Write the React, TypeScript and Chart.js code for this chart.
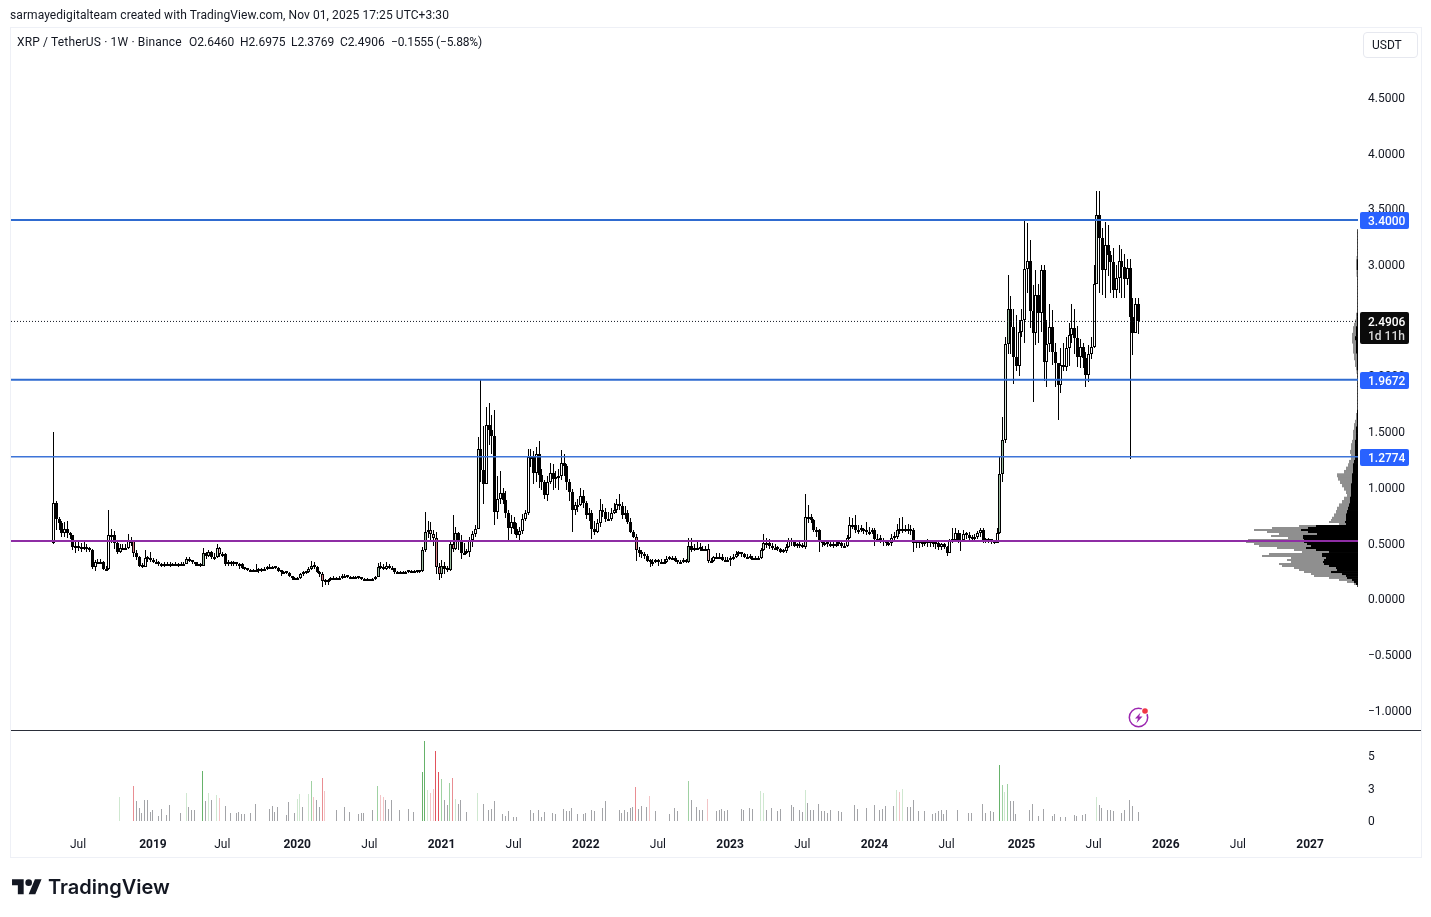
import { useEffect, useRef } from "react";
import Chart from "chart.js/auto";

// weekly XRP/USDT candles, week 0 = first candle on the left
const firstOpen = 0.5;
const closes = [
  .86,.72,.68,.59,.63,.59,.57,.47,.46,.47,
  .45,.47,.45,.44,.29,.33,.33,.33,.27,.27,
  .57,.57,.50,.42,.46,.46,.46,.52,.52,.41,
  .38,.30,.29,.37,.36,.35,.33,.33,.31,.30,
  .31,.31,.31,.31,.31,.30,.31,.31,.36,.34,
  .33,.31,.31,.30,.41,.39,.42,.38,.38,.46,
  .40,.40,.31,.33,.31,.32,.31,.31,.28,.27,
  .26,.26,.26,.26,.25,.27,.27,.29,.29,.29,
  .28,.25,.24,.24,.23,.21,.19,.19,.19,.22,
  .23,.24,.27,.30,.29,.24,.22,.16,.15,.17,
  .19,.19,.19,.19,.21,.21,.20,.20,.20,.20,
  .19,.18,.18,.18,.18,.18,.20,.29,.28,.27,
  .30,.28,.28,.24,.24,.24,.24,.24,.25,.25,
  .25,.24,.25,.44,.60,.62,.58,.55,.29,.22,
  .30,.27,.26,.49,.45,.59,.52,.41,.41,.42,
  .53,.58,.63,1.35,1.16,1.03,1.56,1.52,1.46,.78,
  .90,.95,.89,.77,.64,.69,.63,.57,.61,.72,
  .77,1.27,1.27,1.13,1.30,1.11,1.05,.93,1.05,1.13,
  1.08,1.09,1.10,1.22,1.19,1.05,.96,.80,.84,.84,
  .92,.86,.75,.77,.63,.60,.68,.80,.78,.72,
  .72,.77,.80,.85,.83,.75,.77,.69,.60,.56,
  .44,.41,.40,.39,.34,.33,.33,.34,.33,.33,
  .33,.36,.37,.37,.34,.33,.33,.34,.33,.48,
  .44,.46,.46,.45,.45,.45,.34,.34,.38,.38,
  .38,.35,.35,.35,.36,.38,.40,.41,.40,.38,
  .38,.37,.37,.37,.37,.44,.50,.50,.48,.46,
  .46,.45,.42,.43,.47,.53,.51,.48,.49,.48,
  .47,.74,.74,.71,.62,.62,.52,.50,.50,.49,
  .49,.48,.49,.50,.48,.48,.55,.66,.66,.62,
  .62,.63,.61,.60,.60,.62,.54,.54,.53,.51,
  .50,.50,.55,.56,.62,.61,.63,.63,.61,.62,
  .50,.51,.50,.49,.50,.51,.50,.49,.50,.47,
  .49,.47,.41,.52,.53,.59,.53,.53,.58,.57,
  .55,.54,.56,.59,.62,.53,.52,.53,.52,.50,
  .59,1.12,1.43,2.29,2.60,2.44,2.17,2.09,2.40,2.50,
  2.96,3.03,2.58,2.39,2.73,2.57,2.95,2.13,2.29,2.44,
  2.22,2.12,1.92,2.10,2.08,2.25,2.37,2.43,2.34,2.17,
  2.26,2.16,2.01,2.20,2.26,2.83,3.45,3.24,2.95,3.18,
  3.09,3.02,2.77,2.88,3.03,2.98,2.87,2.97,2.53,2.39,
  2.646,2.4906,
];
const highs = [
  1.50,.88,.74,.70,.69,.70,.60,.57,.51,.51,
  .50,.51,.49,.47,.45,.35,.36,.36,.34,.30,
  .80,.63,.61,.52,.49,.49,.49,.58,.56,.53,
  .44,.39,.32,.44,.39,.42,.37,.36,.34,.32,
  .33,.33,.33,.32,.33,.32,.33,.33,.38,.38,
  .35,.33,.33,.32,.46,.42,.44,.43,.41,.49,
  .47,.42,.41,.35,.34,.34,.33,.32,.32,.29,
  .27,.27,.27,.31,.28,.28,.29,.30,.31,.30,
  .30,.29,.26,.25,.24,.24,.21,.20,.20,.23,
  .25,.25,.29,.34,.33,.30,.25,.24,.18,.18,
  .20,.21,.20,.21,.22,.22,.21,.21,.21,.21,
  .20,.19,.19,.19,.18,.19,.21,.32,.33,.31,
  .33,.31,.30,.28,.25,.25,.25,.25,.26,.26,
  .26,.25,.26,.47,.78,.70,.69,.62,.60,.32,
  .35,.33,.30,.51,.75,.65,.60,.57,.50,.45,
  .56,.61,.66,1.45,1.965,1.55,1.72,1.76,1.65,1.70,
  1.10,1.15,1.00,.97,.80,.75,.74,.68,.65,.76,
  .80,1.35,1.35,1.33,1.36,1.42,1.17,1.07,1.10,1.22,
  1.21,1.15,1.17,1.34,1.30,1.21,1.08,.99,.87,.90,
  1.00,.98,.88,.82,.80,.70,.72,.90,.85,.82,
  .78,.82,.86,.90,.94,.87,.83,.80,.73,.62,
  .58,.47,.44,.42,.40,.36,.36,.36,.36,.36,
  .36,.39,.39,.39,.39,.35,.35,.37,.36,.55,
  .55,.49,.51,.50,.48,.48,.49,.37,.39,.41,
  .41,.40,.38,.38,.39,.40,.43,.43,.42,.41,
  .40,.40,.39,.39,.39,.46,.58,.55,.54,.50,
  .49,.48,.46,.45,.49,.55,.55,.52,.50,.52,
  .50,.94,.84,.76,.72,.65,.63,.53,.52,.52,
  .51,.52,.51,.53,.52,.50,.57,.74,.73,.75,
  .66,.66,.64,.69,.65,.64,.64,.58,.57,.55,
  .53,.52,.58,.60,.67,.73,.74,.66,.67,.66,
  .64,.53,.52,.52,.53,.54,.53,.52,.53,.52,
  .50,.50,.48,.54,.64,.64,.62,.59,.62,.60,
  .60,.57,.58,.61,.64,.64,.55,.55,.54,.53,
  .64,1.27,1.63,2.35,2.91,2.72,2.60,2.55,2.50,2.60,
  3.40,3.37,3.22,2.82,2.95,2.83,3.00,3.00,2.50,2.65,
  2.59,2.30,2.10,2.25,2.30,2.35,2.48,2.65,2.60,2.45,
  2.33,2.30,2.22,2.28,2.35,3.00,3.66,3.66,3.33,3.38,
  3.36,3.12,3.15,3.00,3.18,3.14,3.10,3.05,3.05,2.70,
  2.70,2.6975,
];
const lows = [
  .49,.62,.62,.56,.56,.55,.54,.44,.41,.43,
  .42,.44,.42,.42,.27,.25,.31,.31,.26,.26,
  .26,.50,.45,.40,.41,.44,.44,.45,.48,.38,
  .35,.29,.28,.29,.33,.33,.32,.31,.30,.29,
  .29,.30,.29,.30,.30,.29,.30,.30,.31,.33,
  .31,.30,.30,.29,.30,.36,.38,.36,.35,.37,
  .38,.38,.30,.30,.30,.30,.30,.27,.27,.26,
  .25,.25,.25,.25,.23,.24,.26,.26,.28,.27,
  .27,.24,.21,.22,.22,.20,.17,.18,.18,.18,
  .21,.22,.23,.26,.27,.23,.20,.11,.13,.13,
  .16,.17,.18,.17,.18,.20,.19,.19,.19,.19,
  .18,.17,.17,.17,.17,.17,.17,.20,.27,.26,
  .26,.27,.26,.22,.23,.23,.23,.23,.23,.24,
  .24,.23,.23,.24,.42,.55,.52,.48,.22,.17,
  .19,.22,.24,.25,.42,.44,.44,.36,.40,.40,
  .38,.47,.56,.63,1.05,.85,1.03,1.38,1.30,.66,
  .72,.85,.85,.73,.53,.58,.58,.55,.52,.58,
  .70,.75,1.18,1.03,1.05,1.00,.98,.90,.88,1.03,
  .98,1.00,.98,1.07,1.10,.98,.88,.60,.75,.78,
  .83,.82,.72,.70,.54,.57,.59,.65,.74,.69,
  .70,.70,.76,.77,.80,.72,.72,.67,.59,.55,
  .34,.38,.37,.36,.33,.29,.30,.32,.30,.31,
  .32,.32,.35,.35,.33,.31,.32,.32,.32,.32,
  .42,.43,.44,.43,.43,.43,.32,.32,.33,.36,
  .37,.34,.34,.34,.30,.35,.37,.39,.38,.37,
  .36,.36,.36,.36,.36,.36,.43,.46,.45,.44,
  .44,.43,.41,.41,.41,.46,.48,.47,.46,.46,
  .46,.45,.68,.68,.60,.56,.42,.47,.48,.47,
  .47,.46,.47,.48,.46,.46,.47,.54,.63,.59,
  .58,.60,.58,.57,.57,.58,.48,.51,.50,.48,
  .48,.48,.48,.53,.54,.58,.59,.60,.58,.57,
  .42,.46,.46,.47,.48,.47,.47,.47,.45,.44,
  .44,.45,.39,.41,.50,.52,.50,.43,.51,.54,
  .53,.52,.52,.54,.56,.50,.50,.50,.49,.49,
  .50,.58,1.05,1.40,2.20,2.20,1.93,2.05,2.00,2.35,
  2.30,2.75,2.43,1.77,2.28,2.30,2.40,1.96,1.90,2.22,
  2.10,1.90,1.61,1.85,2.05,2.05,2.09,2.30,2.20,2.08,
  2.07,2.07,1.90,1.95,2.15,2.25,2.83,2.75,2.73,2.70,
  2.90,2.75,2.70,2.70,2.75,2.70,2.70,2.82,1.26,2.19,
  2.40,2.3769,
];

// volume pane: only the weeks that show a bar
const volumeWeeks = [
  24,29,30,31,32,33,34,35,36,38,39,41,42,46,48,49,50,51,54,55,56,57,59,60,62,64,66,67,68,69,71,73,78,79,80,81,84,85,87,
  88,89,90,92,93,94,95,96,97,98,102,105,107,110,111,112,115,117,118,119,120,121,122,125,128,130,133,134,135,136,137,138,139,
  140,141,142,143,144,145,146,147,149,153,155,157,158,159,162,163,164,166,167,172,173,175,176,177,180,181,184,185,186,187,189,191,192,194,195,
  198,199,204,205,206,207,208,209,210,211,212,214,215,217,222,224,225,229,230,232,233,234,236,239,240,241,242,243,248,249,251,252,255,256,257,259,261,262,
  266,267,269,270,271,272,273,274,276,277,278,279,280,283,284,289,290,293,296,298,299,300,303,304,305,306,308,309,310,312,314,317,318,319,320,321,322,326,330,331,
  335,336,338,339,341,342,343,344,345,346,347,352,353,355,357,360,361,363,365,368,369,371,372,376,377,378,380,381,382,385,386,388,389,391,
];
const volumeValues = [
  1.86,2.71,1.55,1.01,.62,1.63,1.63,.70,.85,.39,.93,.47,1.24,.62,2.17,1.09,.85,.85,3.88,1.55,2.17,1.63,2.02,1.78,1.16,.62,.62,.70,.54,.54,.62,1.32,.93,1.16,.70,1.09,.47,1.47,.62,
  1.71,2.09,1.09,2.09,3.10,1.86,1.63,1.09,3.33,2.33,.85,1.09,.70,.54,.62,.62,.85,2.71,2.02,1.86,1.63,.93,1.63,.85,.93,.70,3.80,6.20,2.40,2.17,2.45,5.43,3.80,
  3.26,1.63,1.24,2.95,3.33,1.71,1.32,1.63,.70,2.17,1.32,.85,.93,1.55,.54,.39,.78,.31,.31,.85,.62,.85,.31,.70,.62,.54,.93,.78,.78,1.01,.54,.54,.62,.85,.78,
  1.01,1.55,.85,.62,.85,.70,1.01,1.09,2.64,.93,1.16,1.09,1.94,.78,.54,1.01,.78,3.10,1.63,1.09,.85,.85,1.71,.78,.85,.93,.78,.85,.93,.85,1.01,.93,2.33,2.17,.85,1.01,.78,.93,
  1.24,1.09,.85,.70,2.40,1.40,.85,.85,1.32,.78,.78,.62,.85,.78,.70,1.24,.93,1.01,1.24,.85,.93,1.16,1.16,2.40,2.25,2.48,1.09,1.09,1.63,.78,.78,.54,.62,.78,.85,.54,.85,.85,.62,.62,
  1.32,.62,.78,.70,4.34,2.79,2.25,2.87,1.55,1.55,.54,.85,1.32,.39,.93,.39,.54,.31,.31,.47,.39,.47,.54,1.86,1.24,1.01,.85,.85,.78,.62,.85,1.63,1.16,.70,
];

// anchored volume profile: dense rows where most of the volume sits
const fineProfilePrices = [
  .117,.135,.153,.171,.189,.207,.224,.242,.260,.278,.296,.314,.332,.350,.368,.386,.404,
  .422,.440,.458,.476,.494,.512,.530,.548,.566,.584,.602,.620,.637,.655,.673,.691,.709,
];
const fineProfileTotals = [
  1,4,11,19,29,44,47,54,59,64,76,79,67,71,67,96,89,
  56,64,81,99,104,112,110,70,87,79,91,104,86,59,19,29,27,
];
const fineProfileInner = [
  .5,2,4,6,11,12,16,27,21,22,29,34,35,34,32,36,36,
  29,42,52,47,51,54,54,55,55,41,50,57,50,42,12,13,12,
];

// and coarser rows above that
const profilePrices = [
  .72,.75,.78,.81,.84,.87,.90,.93,.96,.99,
  1.02,1.05,1.08,1.11,1.14,1.17,1.20,1.23,1.26,1.29,1.32,1.35,1.38,1.41,1.44,1.47,1.50,1.53,1.56,1.59,1.62,1.65,1.68,
  1.71,1.74,1.77,1.80,1.83,1.86,1.89,1.92,1.95,1.98,2.01,2.04,2.07,2.10,2.13,2.16,2.19,2.22,2.25,2.28,2.31,2.34,2.37,2.40,2.43,2.46,2.49,
  2.52,2.55,2.58,2.61,2.64,2.67,2.70,2.73,2.76,2.79,2.82,2.85,2.88,2.91,2.94,2.97,3.00,3.03,3.06,3.09,3.12,3.15,3.18,3.21,3.24,3.27,3.30,
];
const profileTotals = [
  26,24,22,21,19,16,14,11,12,14,
  16,18,20,21,14,12,10,9,7,7,8,7,7,6,5,5,5,4,4,3,2,2,1,
  1,1,1,1,1,1,1,1,1,1,1,1.5,2,3,3,4,4,5,5,5,6,6,6,5,5,4,3,
  2,2,1,1,1,1,1,1,1,1,1,1,1,1.5,1.5,2,2,2,1.5,1,1,1,1,1,1,1,1,
];
const profileInner = [
  12,12,11,10,9,8,8,7,7,7,
  7,6,6,6,5,5,5,4,3,3,3,3,3,3,2,2,2,2,1,1,1,1,1,
  .5,.5,.5,.5,.5,.5,.5,.5,.5,.5,.5,.5,1,1,1,1,1,2,2,2,2,3,2,2,2,1,1,
  1,1,.5,.5,.5,.5,.5,.5,.5,.5,.5,.5,.5,.5,.5,1,1,1,.5,.5,.5,.5,.5,.5,.5,.5,.5,
];

const priceTicks = [-1, -0.5, 0, 0.5, 1, 1.5, 2, 2.5, 3, 3.5, 4, 4.5];
const volumeTicks = [0, 2.5, 5];
const timeWeeks = [9, 36, 61, 88, 114, 140, 166, 192, 218, 244, 270, 296, 322, 349, 375, 401, 427, 453];
const timeLabels = ["Jul", "2019", "Jul", "2020", "Jul", "2021", "Jul", "2022", "Jul", "2023", "Jul", "2024", "Jul", "2025", "Jul", "2026", "Jul", "2027"];

const lastPrice = 2.4906;
const blueLevels = [3.4, 1.9672, 1.2774];
const purpleLevel = 0.5204;

const legendParts = [
  { left: 17, text: "XRP / TetherUS \u00b7 1W \u00b7 Binance", spacing: 0.15 },
  { left: 189, text: "O2.6460", spacing: 0 },
  { left: 240, text: "H2.6975", spacing: 0 },
  { left: 291, text: "L2.3769", spacing: 0 },
  { left: 340, text: "C2.4906", spacing: 0 },
  { left: 391, text: "\u22120.1555 (\u22125.88%)", spacing: -0.2 },
];

const FONT = "Roboto, 'Noto Sans', sans-serif";
const TEXT = "#131722";
const X_MIN = -15.135;
const X_MAX = 470.27;

const opens = closes.map((c, i) => (i ? closes[i - 1] : firstOpen));

function volumeTint(value: number, up: boolean) {
  if (value >= 3.5) return up ? "#66b26a" : "#e2535d";
  if (value >= 2.6) return up ? "#9fd1a2" : "#e98d92";
  if (value >= 1.68) return up ? "#cfe8d0" : "#f3c4c6";
  return null;
}

function bodyTint(value: number, up: boolean) {
  if (value >= 2.6) return up ? "#9dbfa2" : "#d97f86";
  if (value >= 1.68) return up ? "#dbe8dc" : "#edc3c5";
  return null;
}

const volumeColorByWeek = new Map<number, string>();
const bodyColorByWeek = new Map<number, string>();
volumeWeeks.forEach((w, i) => {
  const up = closes[w] >= opens[w];
  const vt = volumeTint(volumeValues[i], up);
  const bt = bodyTint(volumeValues[i], up);
  if (vt) volumeColorByWeek.set(w, vt);
  if (bt) bodyColorByWeek.set(w, bt);
});

// snap bars to whole pixels so the 1px wicks stay crisp
const snapBars = {
  id: "snapBars",
  beforeDatasetsDraw(chart: any) {
    chart.getSortedVisibleDatasetMetas().forEach((meta: any) => {
      if (meta.type !== "bar" || meta.indexAxis === "y") return;
      const isCandle = meta.yAxisID === "y";
      meta.data.forEach((el: any) => {
        el.x = (isCandle ? Math.round(el.x) : Math.floor(el.x)) + 0.5;
        el.y = Math.round(el.y);
        el.base = Math.round(el.base);
      });
    });
  },
};

const priceTags = {
  id: "priceTags",
  afterDraw(chart: any) {
    const { ctx } = chart;
    const y = chart.scales.y;
    ctx.save();
    ctx.font = `500 12px ${FONT}`;
    ctx.textBaseline = "middle";
    ctx.textAlign = "left";
    blueLevels.forEach((v) => {
      const py = Math.round(y.getPixelForValue(v));
      ctx.fillStyle = "#2962ff";
      ctx.beginPath();
      ctx.roundRect(1360, py - 8, 49, 17, 2);
      ctx.fill();
      ctx.fillStyle = "#ffffff";
      ctx.fillText(v.toFixed(4), 1368, py + 2);
    });
    const py = Math.round(y.getPixelForValue(lastPrice));
    ctx.fillStyle = "#0b0b0b";
    ctx.beginPath();
    ctx.roundRect(1360, py - 9, 49, 32, 2);
    ctx.fill();
    ctx.fillStyle = "#ffffff";
    ctx.fillText(lastPrice.toFixed(4), 1368, py + 2);
    ctx.fillStyle = "#d8d8d8";
    ctx.fillText("1d 11h", 1368, py + 16);
    ctx.restore();
  },
};

function levelLine(value: number, color: string, width: number, order: number, dash: number[] = []) {
  return {
    type: "line",
    data: [{ x: X_MIN, y: value }, { x: X_MAX, y: value }],
    xAxisID: "x",
    yAxisID: "y",
    borderColor: color,
    borderWidth: width,
    borderDash: dash,
    pointRadius: 0,
    order,
  };
}

function profileRows(prices: number[], widths: number[], color: string, thickness: number, order: number) {
  return {
    indexAxis: "y",
    data: prices.map((p, i) => ({ y: p, x: [0, widths[i]] })),
    xAxisID: "xProfile",
    yAxisID: "y",
    backgroundColor: color,
    barThickness: thickness,
    inflateAmount: 0,
    grouped: false,
    order,
  };
}

export default function App() {
  const canvasRef = useRef<HTMLCanvasElement>(null);

  useEffect(() => {
    const chart = new Chart(canvasRef.current!.getContext("2d")!, {
      type: "bar",
      data: {
        datasets: [
          profileRows(fineProfilePrices, fineProfileTotals, "#8f8f8f", 2, 8),
          profileRows(profilePrices, profileTotals, "#8f8f8f", 4, 8),
          profileRows(fineProfilePrices, fineProfileInner, "#000000", 2, 7),
          profileRows(profilePrices, profileInner, "#000000", 4, 7),
          {
            data: closes.map((_, i) => ({ x: i, y: [lows[i], highs[i]] })),
            xAxisID: "x",
            yAxisID: "y",
            backgroundColor: "#000000",
            barThickness: 1,
            inflateAmount: 0,
            grouped: false,
            order: 6,
          },
          {
            data: closes.map((c, i) => ({ x: i, y: [opens[i], c] })),
            xAxisID: "x",
            yAxisID: "y",
            backgroundColor: closes.map((c, i) => bodyColorByWeek.get(i) || (c >= opens[i] ? "#ffffff" : "#000000")),
            borderColor: "#000000",
            borderWidth: 1,
            borderSkipped: false,
            barThickness: 3,
            inflateAmount: 0,
            minBarLength: 2,
            grouped: false,
            order: 5,
          },
          {
            data: volumeWeeks.map((w, i) => ({ x: w, y: [0, volumeValues[i]] })),
            xAxisID: "x",
            yAxisID: "yVol",
            backgroundColor: volumeWeeks.map((w) => volumeColorByWeek.get(w) || "#a3a4a8"),
            barThickness: 1,
            inflateAmount: 0,
            grouped: false,
            order: 5,
          },
          levelLine(lastPrice, "#131722", 1, 4, [1, 2]),
          levelLine(blueLevels[2], "#3d74d8", 1.5, 3),
          levelLine(blueLevels[1], "#2f6bd0", 2, 3),
          levelLine(blueLevels[0], "#2f6bd0", 2, 3),
          levelLine(purpleLevel, "#8e2da4", 2, 2),
        ] as any,
      },
      options: {
        responsive: false,
        animation: false,
        devicePixelRatio: 1,
        events: [],
        layout: { padding: { left: 11, right: 10, top: 27, bottom: 60 }, autoPadding: false },
        plugins: { legend: { display: false }, tooltip: { enabled: false }, title: { display: false } },
        scales: {
          x: {
            type: "linear",
            offset: false,
            min: X_MIN,
            max: X_MAX,
            grid: { display: false },
            border: { display: false },
            afterBuildTicks: (s: any) => {
              s.ticks = timeWeeks.map((value) => ({ value }));
            },
            afterFit: (s: any) => {
              s.height = 27;
            },
            ticks: {
              autoSkip: false,
              maxRotation: 0,
              padding: 0,
              color: TEXT,
              font: (c: any) => ({
                family: FONT,
                size: 12,
                weight: timeLabels[timeWeeks.indexOf(c.tick?.value)] === "Jul" ? "normal" : "bold",
              }),
              callback: (v: any) => timeLabels[timeWeeks.indexOf(v)],
            },
          },
          xProfile: {
            type: "linear",
            axis: "x",
            display: false,
            reverse: true,
            offset: false,
            min: 0,
            max: 1347,
            grid: { display: false },
          },
          y: {
            type: "linear",
            position: "right",
            stack: "panes",
            stackWeight: 703,
            offset: false,
            min: -1.1754,
            max: 5.1324,
            grid: { display: false },
            border: { display: false },
            afterBuildTicks: (s: any) => {
              s.ticks = priceTicks.map((value) => ({ value }));
            },
            afterFit: (s: any) => {
              s.width = 63;
            },
            ticks: {
              autoSkip: false,
              padding: 2,
              crossAlign: "near",
              color: TEXT,
              // empty first line nudges the label down a little
              font: { family: FONT, size: 12, lineHeight: "2.6px" },
              callback: (v: any) => ["", (v < 0 ? "\u2212" : "") + Math.abs(v).toFixed(4)],
            },
          },
          yVol: {
            type: "linear",
            position: "right",
            stack: "panes",
            stackWeight: 100,
            offset: false,
            min: -0.698,
            max: 7.054,
            grid: { display: false },
            border: { display: false },
            afterBuildTicks: (s: any) => {
              s.ticks = volumeTicks.map((value) => ({ value }));
            },
            afterFit: (s: any) => {
              s.width = 63;
            },
            ticks: {
              autoSkip: false,
              padding: 2,
              crossAlign: "near",
              color: TEXT,
              font: { family: FONT, size: 12, lineHeight: "2px" },
              callback: (v: any) => ["", String(Math.round(v))],
            },
          },
        },
      } as any,
      plugins: [snapBars, priceTags],
    });

    return () => chart.destroy();
  }, []);

  return (
    <div style={{ position: "fixed", left: 0, top: 0, width: 1431, height: 917, background: "#fff", overflow: "hidden", fontFamily: FONT, color: TEXT }}>
      <canvas ref={canvasRef} width={1431} height={917} style={{ position: "absolute", left: 0, top: 0, display: "block" }} />
      <div style={{ position: "absolute", left: 10, top: 27, width: 1410, height: 829, border: "1px solid #eef0f6", pointerEvents: "none" }} />
      <div style={{ position: "absolute", left: 11, top: 730, width: 1410, height: 1, background: "#2a2e39" }} />
      <div style={{ position: "absolute", left: 10, top: 7, fontSize: 12, lineHeight: "16px", letterSpacing: 0.08, whiteSpace: "pre" }}>
        sarmayedigitalteam created with TradingView.com, Nov 01, 2025 17:25 UTC+3:30
      </div>
      {legendParts.map((p) => (
        <div key={p.left} style={{ position: "absolute", left: p.left, top: 34, fontSize: 12, lineHeight: "16px", letterSpacing: p.spacing, whiteSpace: "pre" }}>
          {p.text}
        </div>
      ))}
      <div style={{ position: "absolute", left: 1363, top: 32, width: 45, height: 24, paddingLeft: 8, border: "1px solid #e6e8ef", borderRadius: 4, fontSize: 12, lineHeight: "24px" }}>
        USDT
      </div>
      <svg style={{ position: "absolute", left: 1127, top: 706 }} width={24} height={24} viewBox="0 0 24 24">
        <circle cx="11.5" cy="11.5" r="9.2" fill="none" stroke="#9c27b0" strokeWidth="1.5" />
        <path d="M13.5 6.5 L8 12.5 H11 L9.5 17 L15.5 10.5 H12.2 Z" fill="#9c27b0" />
        <circle cx="18" cy="5" r="3.8" fill="#fff" />
        <circle cx="18" cy="5" r="2.8" fill="#f23645" />
      </svg>
      <svg style={{ position: "absolute", left: 12, top: 876 }} width={30} height={23.3} viewBox="0 0 36 28">
        <path d="M14 22H7V11H0V4h14v18zM28 22h-8l7.5-18h8L28 22z" fill="#131722" />
        <circle cx="20" cy="8" r="4" fill="#131722" />
      </svg>
      <div style={{ position: "absolute", left: 48, top: 873, fontFamily: "Inter, Roboto, sans-serif", fontWeight: 600, fontSize: 20, lineHeight: "28px", color: "#131722" }}>
        TradingView
      </div>
    </div>
  );
}
